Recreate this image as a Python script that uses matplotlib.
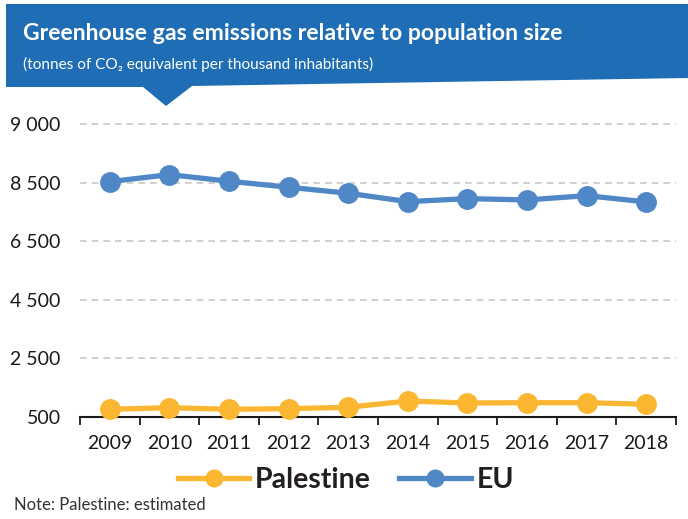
import numpy as np
import matplotlib.pyplot as plt
from matplotlib.patches import Polygon
from matplotlib.lines import Line2D

years = ['2009', '2010', '2011', '2012', '2013', '2014', '2015', '2016', '2017', '2018']
palestine = [763, 818, 763, 783, 831, 1046, 978, 988, 988, 934]
eu = [8533, 8772, 8547, 8342, 8137, 7850, 7953, 7908, 8055, 7840]

ytick_vals = [500, 2500, 4500, 6500, 8500, 10500]
ytick_labels = ['500', '2 500', '4 500', '6 500', '8 500', '9 000']

c_pal = '#FBB731'
c_eu = '#4F87C7'
c_banner = '#1F6EB5'

plt.rcParams['font.family'] = ['Lato', 'DejaVu Sans']

W, H = 688, 519
fig = plt.figure(figsize=(W / 100, H / 100), dpi=100)


def px(x, y):
    return (x / W, 1 - y / H)


# header banner with pointer
banner = Polygon([px(6, 4), px(688, 4), px(688, 78), px(192, 86), px(166, 106),
                  px(143, 87), px(6, 87)], closed=True, transform=fig.transFigure,
                 facecolor=c_banner, edgecolor='none')
fig.patches.append(banner)
fig.text(*px(23, 40), 'Greenhouse gas emissions relative to population size',
         color='white', fontsize=16.6, fontweight='bold', va='baseline')
fig.text(*px(23, 69), '(tonnes of CO\u2082 equivalent per thousand inhabitants)',
         color='white', fontsize=11.1, va='baseline')

ax = fig.add_axes([80 / W, 1 - 417 / H, 596 / W, 293 / H])
x = np.arange(len(years))

ax.plot(x, eu, color=c_eu, lw=3.8, marker='o', ms=14, clip_on=False, zorder=3)
ax.plot(x, palestine, color=c_pal, lw=3.8, marker='o', ms=14, clip_on=False, zorder=3)

ax.set_xlim(-0.5, len(years) - 0.5)
ax.set_ylim(500, 10500)
ax.set_yticks(ytick_vals)
ax.set_yticklabels(ytick_labels)
ax.set_xticks(x)
ax.set_xticklabels(years)
ax.set_xticks(np.arange(-0.5, len(years), 1), minor=True)

for v in ytick_vals[1:]:
    ax.axhline(v, color='#C8C8C8', lw=1.2, ls=(0, (4, 3)), zorder=1, clip_on=False)

for s in ['top', 'right', 'left']:
    ax.spines[s].set_visible(False)
ax.spines['bottom'].set_color('#1A1A1A')
ax.spines['bottom'].set_linewidth(1.5)

ax.tick_params(axis='y', length=0, pad=14, labelsize=14, labelcolor='#1A1A1A')
ax.tick_params(axis='x', which='major', length=0, pad=13, labelsize=14, labelcolor='#1A1A1A')
ax.tick_params(axis='x', which='minor', length=6, width=1.3, color='#1A1A1A', direction='out')

handles = [Line2D([], [], color=c_pal, lw=3.8, marker='o', ms=12),
           Line2D([], [], color=c_eu, lw=3.8, marker='o', ms=12)]
fig.legend(handles, ['Palestine', 'EU'], loc='center', bbox_to_anchor=px(346, 480),
           ncol=2, frameon=False, handlelength=2.5, columnspacing=1.0, handletextpad=0.2,
           prop={'size': 20.5, 'weight': 'bold'})
for t in fig.legends[0].get_texts():
    t.set_color('#231F20')

fig.text(*px(14, 505), 'Note: Palestine: estimated', fontsize=12, color='#333333', va='center')

fig.savefig('out.png', dpi=100)
